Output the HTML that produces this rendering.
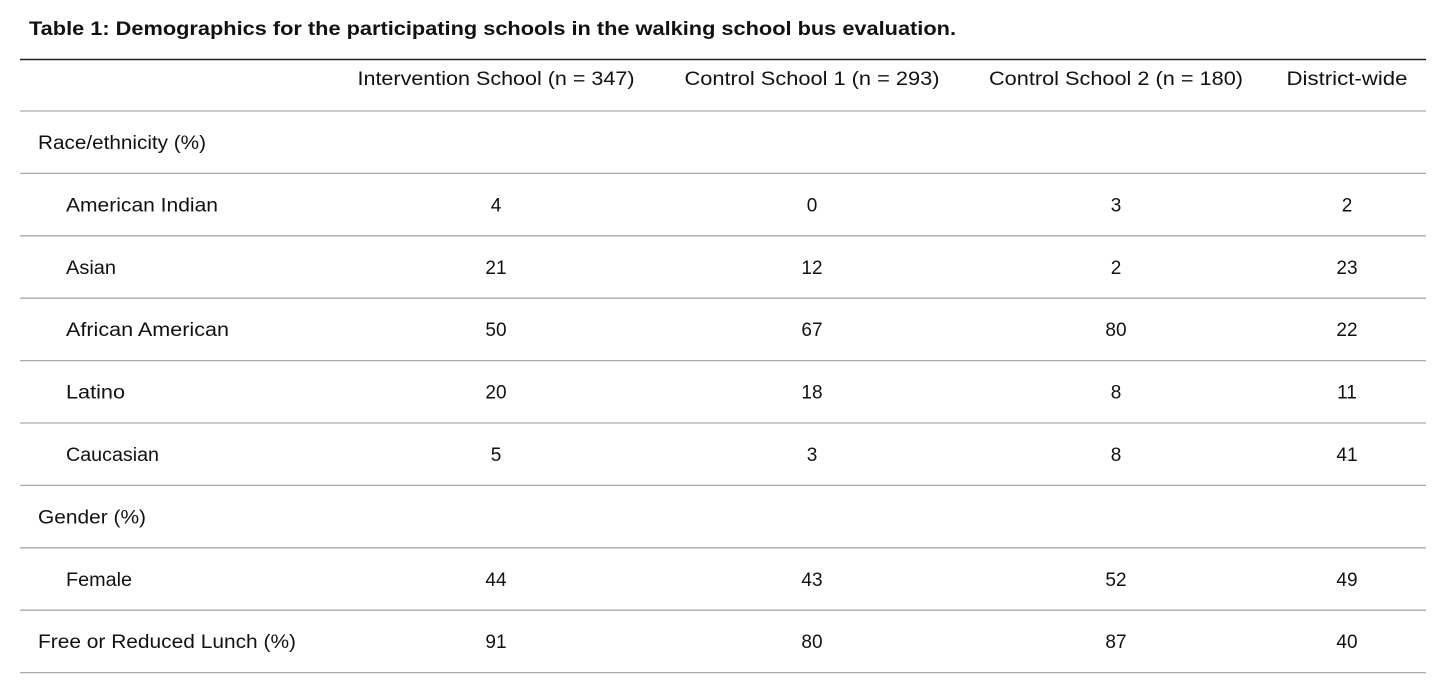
<!DOCTYPE html>
<html><head><meta charset="utf-8"><style>
html,body{margin:0;padding:0;background:#fff;width:1451px;height:690px;overflow:hidden}
svg text{font-family:"Liberation Sans",sans-serif;fill:#111}
</style></head><body>
<svg width="1451" height="690">
<text x="29" y="35" font-size="19" font-weight="bold" textLength="927" lengthAdjust="spacingAndGlyphs">Table 1: Demographics for the participating schools in the walking school bus evaluation.</text>
<line x1="20" x2="1426" y1="59.5" y2="59.5" stroke="#222" stroke-width="1.5"/>
<g id="hdr" font-size="19"></g>
<g id="rows" font-size="19"></g>
<script>
const columns=["Intervention School (n = 347)","Control School 1 (n = 293)","Control School 2 (n = 180)","District-wide"];
const colCenters=[496,812,1116,1347];
const colWidths=[277,255,254,121];
const labels=["Race/ethnicity (%)","American Indian","Asian","African American","Latino","Caucasian","Gender (%)","Female","Free or Reduced Lunch (%)"];
const labelWidths=[168,152,50,163,59,93,108,66,258];
const indent=[0,1,1,1,1,1,0,1,0];
const intervention=[null,4,21,50,20,5,null,44,91];
const control1=[null,0,12,67,18,3,null,43,80];
const control2=[null,3,2,80,8,8,null,52,87];
const district=[null,2,23,22,11,41,null,49,40];
const NS="http://www.w3.org/2000/svg";
const svg=document.querySelector('svg');
const hdr=document.getElementById('hdr'),rows=document.getElementById('rows');
columns.forEach((c,i)=>{
 const t=document.createElementNS(NS,'text');
 
 
 t.setAttribute('x',colCenters[i]-colWidths[i]/2);t.setAttribute('y',85);
 t.setAttribute('textLength',colWidths[i]);t.setAttribute('lengthAdjust','spacingAndGlyphs');
 t.textContent=c;hdr.appendChild(t);
});
function line(y){const l=document.createElementNS(NS,'line');
 
 
 l.setAttribute('x1',20);l.setAttribute('x2',1426);l.setAttribute('y1',y);l.setAttribute('y2',y);
 l.setAttribute('stroke','#aaa');l.setAttribute('stroke-width','1.3');svg.appendChild(l);}
line(111);
const series=[intervention,control1,control2,district];
const RH=62.4;
labels.forEach((lab,r)=>{
 const top=111+r*RH;
 const base=top+38;
 const t=document.createElementNS(NS,'text');
 
 
 t.setAttribute('x',indent[r]?66:38);t.setAttribute('y',base);
 t.textContent=lab;
 t.setAttribute('textLength',labelWidths[r]);t.setAttribute('lengthAdjust','spacingAndGlyphs');
 rows.appendChild(t);
 series.forEach((s,i)=>{
  if(s[r]===null)return;
  const v=document.createElementNS(NS,'text');
  
  
  v.setAttribute('x',colCenters[i]);v.setAttribute('y',base);v.setAttribute('text-anchor','middle');
  v.textContent=s[r];rows.appendChild(v);
 });
 line(top+RH);
});
</script>
</svg>
</body></html>
